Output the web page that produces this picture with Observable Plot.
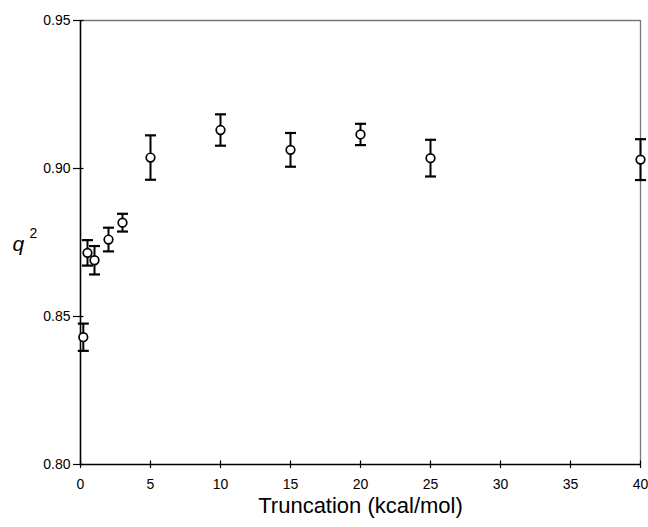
<!DOCTYPE html>
<html><head><meta charset="utf-8">
<script src="https://cdn.jsdelivr.net/npm/d3@7"></script>
<script src="https://cdn.jsdelivr.net/npm/@observablehq/plot@0.6"></script>
<style>body{margin:0;background:#fff}</style>
</head><body><div id="chart"></div>
<script>
const truncation = [0.2, 0.5, 1, 2, 3, 5, 10, 15, 20, 25, 40];
const q2 = [0.843, 0.8715, 0.869, 0.876, 0.8817, 0.9037, 0.913, 0.9063, 0.9115, 0.9035, 0.903];
const q2Error = [0.0046, 0.0043, 0.0048, 0.004, 0.003, 0.0075, 0.0053, 0.0057, 0.0036, 0.0062, 0.0069];
const xTicks = [0, 5, 10, 15, 20, 25, 30, 35, 40];
const yTicks = [0.80, 0.85, 0.90, 0.95];
const xDomain = [0, 40];
const yDomain = [0.80, 0.95];
const xTitle = "Truncation (kcal/mol)";
const yTitle = "q";
const yTitleSup = "2";

const data = truncation.map((x, i) => ({x, q: q2[i], lo: q2[i] - q2Error[i], hi: q2[i] + q2Error[i]}));

const cap = {draw(ctx) { ctx.moveTo(-5.5, 0); ctx.lineTo(5.5, 0); }};
const yTickIn = {draw(ctx) { ctx.moveTo(0, 0); ctx.lineTo(3, 0); }};
const xTickIn = {draw(ctx) { ctx.moveTo(0, 0); ctx.lineTo(0, -4); }};

const chart = Plot.plot({
  width: 648, height: 527,
  marginLeft: 80, marginRight: 8, marginTop: 20, marginBottom: 63,
  x: {domain: xDomain},
  y: {domain: yDomain},
  style: {fontFamily: "'Liberation Sans', Arial, Helvetica, sans-serif", fontSize: "14px", color: "black", background: "white"},
  marks: [
    Plot.ruleY([yDomain[1]], {stroke: "#777", strokeWidth: 1.3}),
    Plot.ruleX([xDomain[1]], {stroke: "#777", strokeWidth: 1.3}),
    Plot.ruleY([yDomain[0]], {stroke: "black", strokeWidth: 1.6}),
    Plot.ruleX([xDomain[0]], {stroke: "black", strokeWidth: 1.6}),
    Plot.axisY(yTicks, {tickSize: 7, tickPadding: 3, tickFormat: d3.format(".2f"), label: null, fontSize: 14, strokeWidth: 1.2}),
    Plot.axisX(xTicks, {tickSize: 4, tickPadding: 11, label: null, fontSize: 14, strokeWidth: 1.2}),
    Plot.dot(yTicks, {y: d => d, frameAnchor: "left", symbol: yTickIn, fill: "none", stroke: "black", strokeWidth: 1.2}),
    Plot.dot(xTicks, {x: d => d, frameAnchor: "bottom", symbol: xTickIn, fill: "none", stroke: "black", strokeWidth: 1.2}),
    Plot.ruleX(data, {x: "x", y1: "lo", y2: "hi", stroke: "black", strokeWidth: 2}),
    Plot.dot(data, {x: "x", y: "lo", symbol: cap, fill: "none", stroke: "black", strokeWidth: 2.2}),
    Plot.dot(data, {x: "x", y: "hi", symbol: cap, fill: "none", stroke: "black", strokeWidth: 2.2}),
    Plot.dot(data, {x: "x", y: "q", r: 4.3, fill: "white", stroke: "black", strokeWidth: 1.7}),
    Plot.text([yTitle], {frameAnchor: "left", dx: -68, dy: 2, textAnchor: "start", fontStyle: "italic", fontSize: 21}),
    Plot.text([yTitleSup], {frameAnchor: "left", dx: -51, dy: -9, textAnchor: "start", fontSize: 14}),
    Plot.text([xTitle], {frameAnchor: "bottom", dy: 48, fontSize: 22})
  ]
});
document.getElementById("chart").appendChild(chart);
</script>
</body></html>
